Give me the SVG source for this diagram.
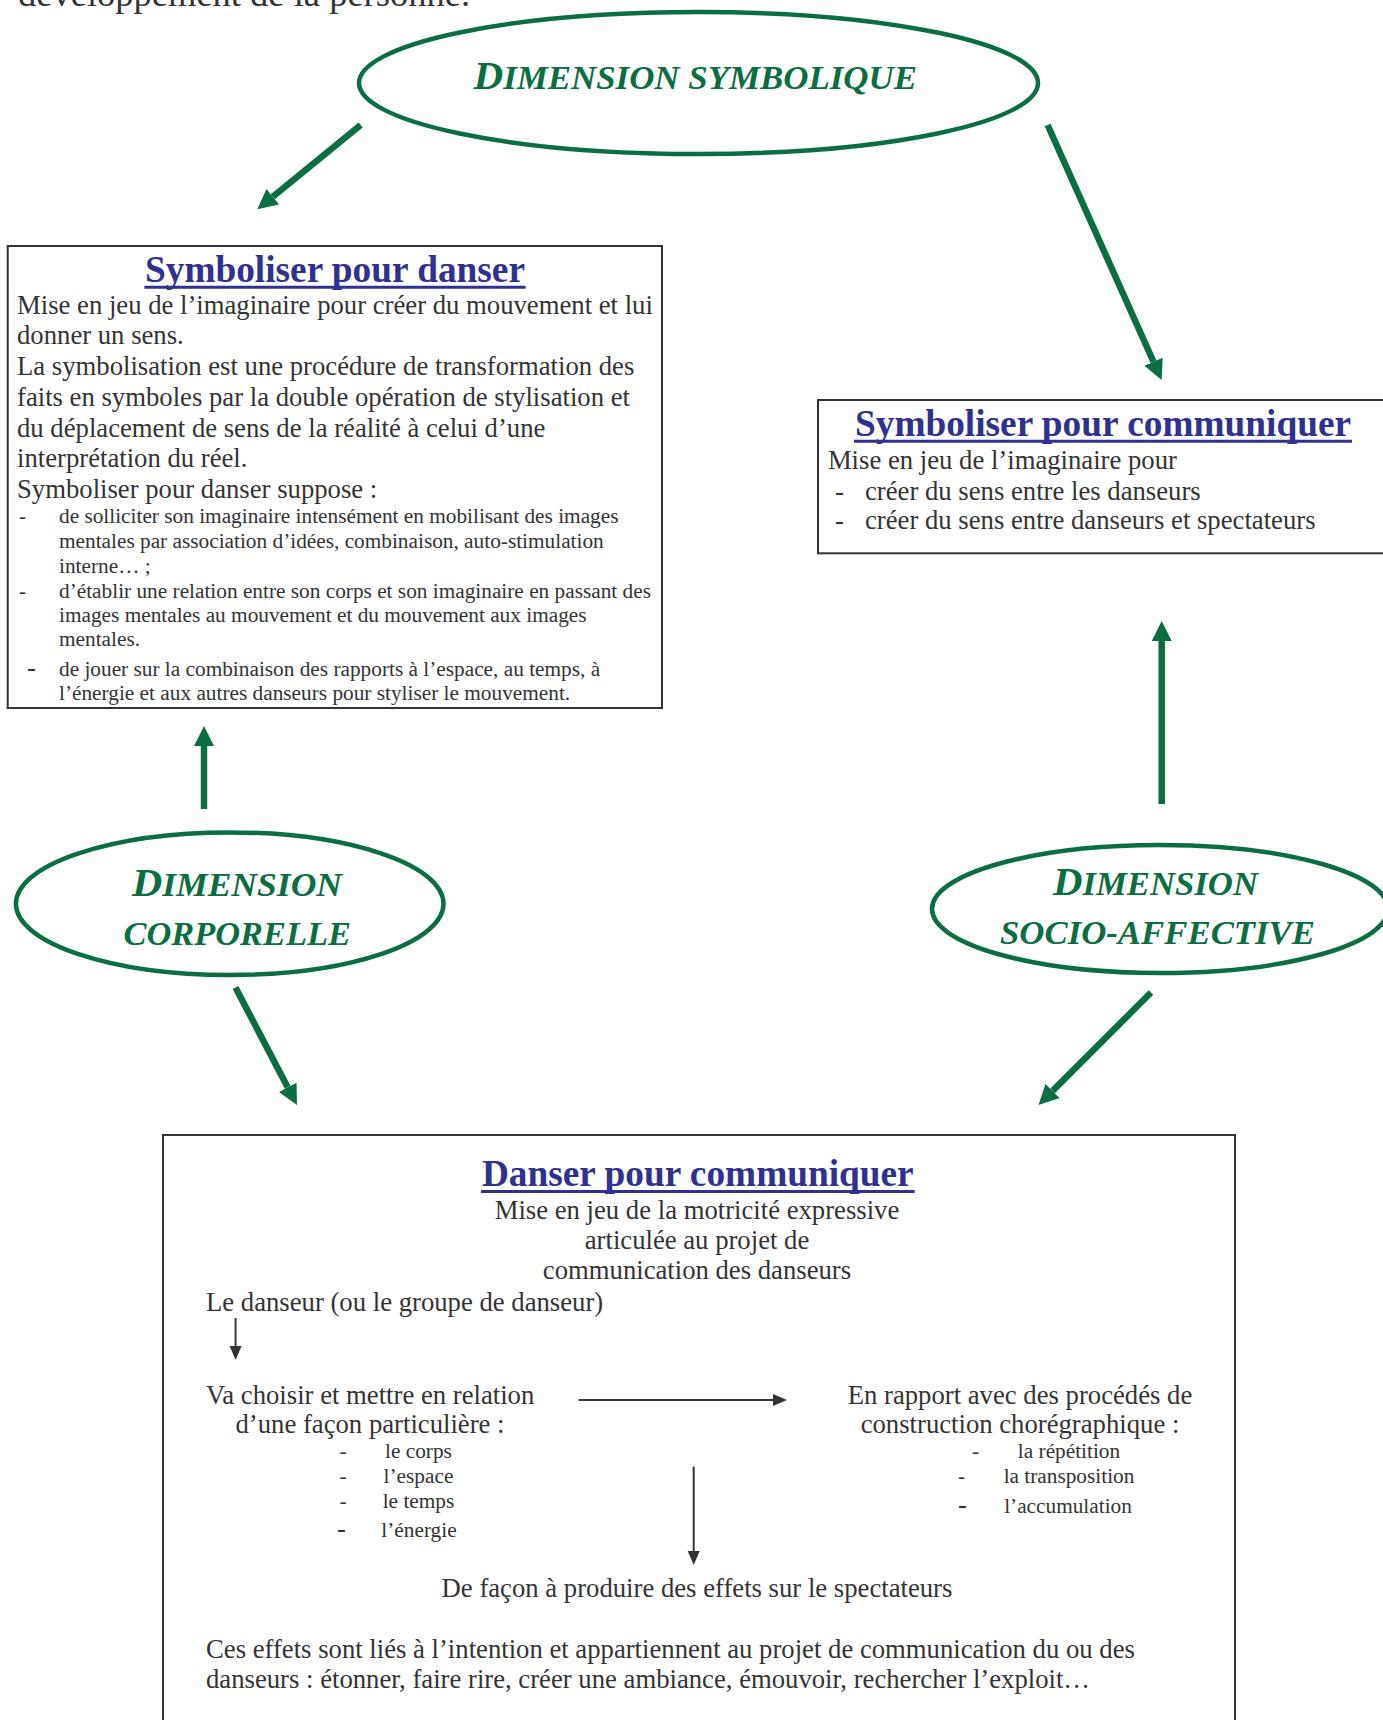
<svg xmlns="http://www.w3.org/2000/svg" width="1383" height="1720" viewBox="0 0 1383 1720">
<style>
  .bg{fill:#ffffff}
  .t{font-family:"Liberation Serif","Times New Roman",serif;fill:#333333}
  .b{font-size:26.7px}
  .s{font-size:21.3px}
  .mid{text-anchor:middle}
  .title{font-family:"Liberation Serif","Times New Roman",serif;font-weight:bold;font-size:37.3px;fill:#2e3192}
  .ul{stroke:#2e3192;stroke-width:3}
  .box{fill:none;stroke:#333333;stroke-width:2}
  .ell{fill:none;stroke:#0b6e42;stroke-width:4.5}
  .dim{font-family:"Liberation Serif","Times New Roman",serif;font-weight:bold;font-style:italic;fill:#0b6e42;font-size:34px}
  .cap{font-size:40px}
  .ga{stroke:#0b6e42;stroke-width:6.5;fill:none}
  .ka{stroke:#333333;stroke-width:2;fill:none}
</style>
<defs>
  <marker id="gh" markerUnits="userSpaceOnUse" markerWidth="22" markerHeight="22" refX="0" refY="10" orient="auto">
    <path d="M0,0 L20,10 L0,20 z" fill="#0b6e42"/>
  </marker>
  <marker id="kh" markerUnits="userSpaceOnUse" markerWidth="16" markerHeight="14" refX="0" refY="6" orient="auto">
    <path d="M0,0 L14,6 L0,12 z" fill="#333333"/>
  </marker>
</defs>
<rect class="bg" x="0" y="0" width="1383" height="1720"/>

<text class="t" x="18" y="6" style="font-size:36.5px">développement de la personne.</text>

<g id="dimension-symbolique">
  <ellipse class="ell" cx="698.5" cy="83" rx="339.5" ry="71"/>
  <text class="dim" x="473.5" y="89.3" textLength="443.5" lengthAdjust="spacingAndGlyphs"><tspan class="cap">D</tspan>IMENSION SYMBOLIQUE</text>
</g>

<g id="dimension-corporelle">
  <ellipse class="ell" cx="229.7" cy="903.7" rx="213.8" ry="71.3"/>
  <text class="dim" x="132" y="896" textLength="210" lengthAdjust="spacingAndGlyphs"><tspan class="cap">D</tspan>IMENSION</text>
  <text class="dim" x="123.5" y="945" textLength="227.5" lengthAdjust="spacingAndGlyphs">CORPORELLE</text>
</g>

<g id="dimension-socio-affective">
  <ellipse class="ell" cx="1160" cy="909" rx="228" ry="64"/>
  <text class="dim" x="1053" y="895" textLength="205" lengthAdjust="spacingAndGlyphs"><tspan class="cap">D</tspan>IMENSION</text>
  <text class="dim" x="1000" y="944" textLength="315" lengthAdjust="spacingAndGlyphs">SOCIO-AFFECTIVE</text>
</g>

<g id="symboliser-pour-danser">
  <rect class="box" x="7.7" y="246" width="654.3" height="462"/>
  <text class="title mid" x="335" y="281.5">Symboliser pour danser</text>
  <line class="ul" x1="144.4" y1="287.2" x2="525.6" y2="287.2"/>
  <text class="t b" x="17" y="313.5">Mise en jeu de l’imaginaire pour créer du mouvement et lui</text>
  <text class="t b" x="17" y="344">donner un sens.</text>
  <text class="t b" x="17" y="375">La symbolisation est une procédure de transformation des</text>
  <text class="t b" x="17" y="405.7">faits en symboles par la double opération de stylisation et</text>
  <text class="t b" x="17" y="436.5">du déplacement de sens de la réalité à celui d’une</text>
  <text class="t b" x="17" y="467">interprétation du réel.</text>
  <text class="t b" x="17" y="498">Symboliser pour danser suppose :</text>
  <text class="t s" x="19" y="522.7">-</text>
  <text class="t s" x="59" y="522.7">de solliciter son imaginaire intensément en mobilisant des images</text>
  <text class="t s" x="59" y="547.7">mentales par association d’idées, combinaison, auto-stimulation</text>
  <text class="t s" x="59" y="572.7">interne… ;</text>
  <text class="t s" x="19" y="597.7">-</text>
  <text class="t s" x="59" y="597.7">d’établir une relation entre son corps et son imaginaire en passant des</text>
  <text class="t s" x="59" y="622">images mentales au mouvement et du mouvement aux images</text>
  <text class="t s" x="59" y="646">mentales.</text>
  <text class="t b" x="27" y="676">-</text>
  <text class="t s" x="59" y="676">de jouer sur la combinaison des rapports à l’espace, au temps, à</text>
  <text class="t s" x="59" y="699.5">l’énergie et aux autres danseurs pour styliser le mouvement.</text>
</g>

<g id="symboliser-pour-communiquer">
  <rect class="box" x="818" y="400" width="580" height="153.3"/>
  <text class="title mid" x="1103" y="435.5">Symboliser pour communiquer</text>
  <line class="ul" x1="854" y1="441.2" x2="1352" y2="441.2"/>
  <text class="t b" x="827.9" y="468.8">Mise en jeu de l’imaginaire pour</text>
  <text class="t b" x="835" y="499.8">-</text>
  <text class="t b" x="865" y="499.8">créer du sens entre les danseurs</text>
  <text class="t b" x="835" y="528.5">-</text>
  <text class="t b" x="865" y="528.5">créer du sens entre danseurs et spectateurs</text>
</g>

<g id="danser-pour-communiquer">
  <rect class="box" x="163" y="1135" width="1072" height="620"/>
  <text class="title mid" x="697.8" y="1185.5">Danser pour communiquer</text>
  <line class="ul" x1="481" y1="1191.5" x2="914.6" y2="1191.5"/>
  <text class="t b mid" x="697" y="1219">Mise en jeu de la motricité expressive</text>
  <text class="t b mid" x="697" y="1249">articulée au projet de</text>
  <text class="t b mid" x="697" y="1279">communication des danseurs</text>
  <text class="t b" x="206" y="1311">Le danseur (ou le groupe de danseur)</text>
  <text class="t b" x="206" y="1403.5">Va choisir et mettre en relation</text>
  <text class="t b mid" x="370" y="1432.5">d’une façon particulière :</text>
  <text class="t s" x="339.4" y="1458">-</text>
  <text class="t s mid" x="418.5" y="1458">le corps</text>
  <text class="t s" x="339.4" y="1483">-</text>
  <text class="t s mid" x="418.5" y="1483">l’espace</text>
  <text class="t s" x="339.4" y="1507.5">-</text>
  <text class="t s mid" x="418.5" y="1507.5">le temps</text>
  <text class="t b" x="337" y="1536.5">-</text>
  <text class="t s mid" x="419" y="1536.5">l’énergie</text>
  <text class="t b mid" x="1020" y="1403.5">En rapport avec des procédés de</text>
  <text class="t b mid" x="1020" y="1432.5">construction chorégraphique :</text>
  <text class="t s" x="972" y="1458">-</text>
  <text class="t s mid" x="1069" y="1458">la répétition</text>
  <text class="t s" x="958" y="1483">-</text>
  <text class="t s mid" x="1069" y="1483">la transposition</text>
  <text class="t b" x="958" y="1513">-</text>
  <text class="t s mid" x="1068" y="1513">l’accumulation</text>
  <text class="t b mid" x="697" y="1597">De façon à produire des effets sur le spectateurs</text>
  <text class="t b" x="206" y="1658">Ces effets sont liés à l’intention et appartiennent au projet de communication du ou des</text>
  <text class="t b" x="206" y="1688">danseurs : étonner, faire rire, créer une ambiance, émouvoir, rechercher l’exploit…</text>
</g>

<g id="connectors">
  <line class="ga" x1="360.7" y1="125" x2="272.8" y2="196.7" marker-end="url(#gh)"/>
  <line class="ga" x1="1047.6" y1="125" x2="1153.5" y2="361.75" marker-end="url(#gh)"/>
  <line class="ga" x1="204" y1="809" x2="204" y2="746" marker-end="url(#gh)"/>
  <line class="ga" x1="1161.7" y1="804" x2="1161.7" y2="641" marker-end="url(#gh)"/>
  <line class="ga" x1="235.5" y1="987.5" x2="287.7" y2="1087.3" marker-end="url(#gh)"/>
  <line class="ga" x1="1151" y1="992.5" x2="1052.6" y2="1090.9" marker-end="url(#gh)"/>
  <line class="ka" x1="235.6" y1="1318" x2="235.6" y2="1346" marker-end="url(#kh)"/>
  <line class="ka" x1="578.7" y1="1400" x2="773" y2="1400" marker-end="url(#kh)"/>
  <line class="ka" x1="693.7" y1="1466.7" x2="693.7" y2="1551" marker-end="url(#kh)"/>
</g>
</svg>
